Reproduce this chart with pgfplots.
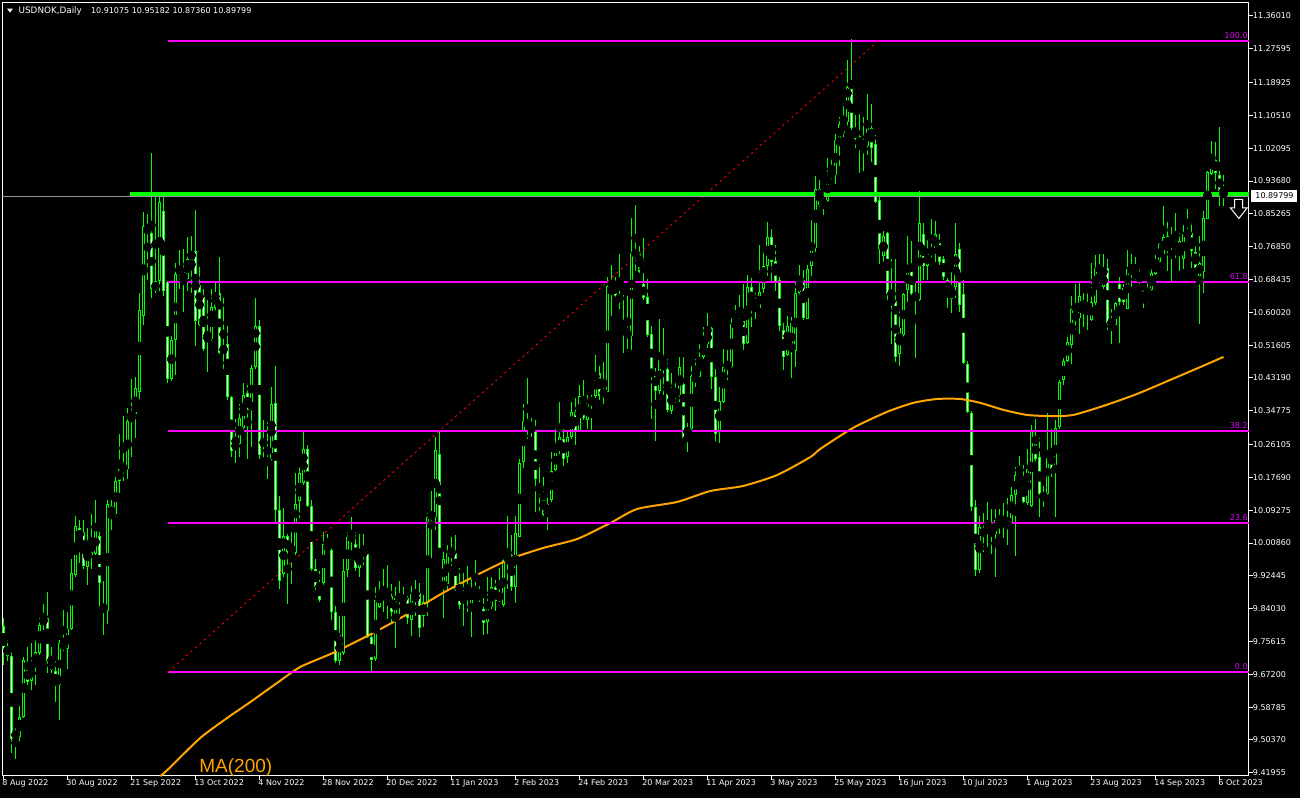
\documentclass[border=0pt]{standalone}
\usepackage{pgfplots}
\pgfplotsset{compat=1.18}
\usepackage{pgfplotstable}
\usepackage{fontspec}
\setmainfont{DejaVu Sans}
\newfontfamily\arialfont{Liberation Sans}
\newlength\px
\setlength\px{0.5pt}
\definecolor{cgreen}{RGB}{0,255,0}
\definecolor{fibc}{RGB}{255,0,255}
\definecolor{fibtxt}{RGB}{225,0,255}
\definecolor{maorange}{RGB}{255,165,0}
\definecolor{pricegrey}{RGB}{150,150,150}

\pgfplotstableread{
i o h l c
0 9.795 9.816 9.696 9.738
1 9.746 9.759 9.706 9.719
2 9.719 9.729 9.471 9.507
3 9.514 9.539 9.455 9.520
4 9.511 9.591 9.497 9.563
5 9.563 9.717 9.560 9.708
6 9.688 9.743 9.644 9.652
7 9.654 9.753 9.633 9.696
8 9.696 9.759 9.644 9.729
9 9.727 9.822 9.722 9.798
10 9.801 9.853 9.785 9.818
11 9.816 9.882 9.675 9.706
12 9.708 9.743 9.675 9.683
13 9.680 9.706 9.602 9.644
14 9.644 9.759 9.555 9.753
15 9.753 9.837 9.733 9.740
16 9.736 9.832 9.685 9.788
17 9.788 9.968 9.785 9.931
18 9.926 10.078 9.921 10.052
19 10.047 10.068 9.958 10.015
20 10.036 10.068 9.942 9.949
21 9.947 10.047 9.900 10.015
22 10.015 10.083 9.942 9.979
23 9.981 10.120 9.979 10.042
24 10.026 10.036 9.837 9.907
25 9.848 9.911 9.774 9.834
26 9.834 10.120 9.801 10.109
27 10.104 10.120 10.042 10.078
28 10.083 10.178 10.078 10.167
29 10.167 10.287 10.136 10.198
30 10.198 10.335 10.169 10.203
31 10.198 10.355 10.172 10.322
32 10.329 10.429 10.230 10.345
33 10.340 10.434 10.277 10.406
34 10.397 10.651 10.376 10.607
35 10.591 10.858 10.567 10.821
36 10.821 10.853 10.682 10.803
37 10.803 11.010 10.638 10.659
38 10.680 10.900 10.649 10.654
39 10.680 10.900 10.654 10.884
40 10.860 10.900 10.643 10.654
41 10.678 10.680 10.418 10.429
42 10.429 10.539 10.424 10.530
43 10.530 10.727 10.439 10.698
44 10.706 10.759 10.659 10.712
45 10.672 10.762 10.602 10.709
46 10.685 10.793 10.654 10.738
47 10.735 10.797 10.649 10.758
48 10.758 10.863 10.513 10.578
49 10.670 10.716 10.565 10.569
50 10.640 10.659 10.502 10.507
51 10.523 10.633 10.448 10.546
52 10.533 10.659 10.528 10.615
53 10.612 10.675 10.607 10.649
54 10.649 10.743 10.494 10.497
55 10.497 10.638 10.450 10.513
56 10.520 10.565 10.376 10.382
57 10.382 10.387 10.230 10.246
58 10.253 10.326 10.214 10.263
59 10.263 10.366 10.230 10.329
60 10.303 10.418 10.298 10.387
61 10.394 10.413 10.225 10.350
62 10.350 10.465 10.256 10.457
63 10.460 10.638 10.455 10.565
64 10.565 10.581 10.225 10.235
65 10.209 10.324 10.209 10.225
66 10.209 10.319 10.172 10.225
67 10.222 10.408 10.214 10.366
68 10.368 10.462 10.062 10.094
69 10.094 10.130 9.890 9.911
70 9.928 10.099 9.921 10.026
71 10.026 10.031 9.853 9.984
72 9.984 10.036 9.905 10.000
73 9.984 10.188 9.979 10.109
74 10.117 10.204 10.073 10.188
75 10.162 10.298 10.157 10.251
76 10.251 10.261 10.102 10.104
77 10.104 10.120 9.937 9.942
78 9.942 9.968 9.884 9.897
79 9.905 9.937 9.858 9.863
80 9.905 10.036 9.900 10.005
81 10.005 10.031 9.989 9.994
82 9.991 10.000 9.811 9.832
83 9.832 9.848 9.701 9.706
84 9.706 9.822 9.696 9.774
85 9.727 9.968 9.722 9.937
86 9.939 10.036 9.921 10.023
87 10.023 10.075 9.989 10.021
88 10.005 10.036 9.937 9.945
89 9.945 10.031 9.921 9.981
90 9.979 10.031 9.952 9.989
91 9.981 9.989 9.764 9.769
92 9.769 9.774 9.680 9.708
93 9.711 9.895 9.706 9.863
94 9.845 9.911 9.843 9.886
95 9.886 9.942 9.832 9.869
96 9.879 9.952 9.813 9.855
97 9.874 9.905 9.801 9.832
98 9.827 9.895 9.740 9.868
99 9.865 9.911 9.827 9.872
100 9.848 9.895 9.837 9.843
101 9.868 9.874 9.801 9.816
102 9.812 9.899 9.771 9.878
103 9.878 9.915 9.822 9.880
104 9.880 9.906 9.767 9.792
105 9.822 9.876 9.794 9.858
106 9.856 10.087 9.822 10.076
107 10.076 10.142 9.968 10.083
108 10.076 10.280 10.041 10.247
109 10.238 10.298 9.995 9.996
110 9.897 9.986 9.817 9.968
111 9.904 10.005 9.886 9.984
112 9.984 10.023 9.950 9.980
113 9.982 10.030 9.886 9.890
114 9.893 9.945 9.840 9.849
115 9.867 9.933 9.796 9.881
116 9.865 9.950 9.833 9.884
117 9.853 9.920 9.768 9.895
118 9.889 9.964 9.876 9.886
119 9.881 9.899 9.858 9.865
120 9.840 9.869 9.774 9.805
121 9.805 9.922 9.776 9.845
122 9.844 9.922 9.840 9.895
123 9.895 9.915 9.835 9.860
124 9.863 9.945 9.858 9.881
125 9.849 9.973 9.844 9.966
126 9.964 10.078 9.890 9.977
127 9.977 10.028 9.886 9.895
128 9.895 10.078 9.856 10.034
129 10.025 10.225 10.023 10.215
130 10.217 10.364 10.202 10.321
131 10.307 10.431 10.275 10.325
132 10.307 10.330 10.280 10.298
133 10.296 10.325 10.089 10.174
134 10.153 10.211 10.092 10.138
135 10.131 10.179 10.078 10.080
136 10.080 10.133 10.041 10.110
137 10.119 10.243 10.115 10.193
138 10.197 10.307 10.193 10.245
139 10.243 10.371 10.238 10.280
140 10.275 10.305 10.206 10.225
141 10.229 10.298 10.215 10.281
142 10.280 10.371 10.275 10.344
143 10.344 10.380 10.261 10.296
144 10.296 10.415 10.293 10.385
145 10.385 10.426 10.325 10.330
146 10.325 10.389 10.302 10.371
147 10.367 10.389 10.293 10.378
148 10.385 10.492 10.380 10.442
149 10.444 10.463 10.376 10.385
150 10.391 10.472 10.364 10.396
151 10.396 10.692 10.394 10.669
152 10.671 10.721 10.591 10.675
153 10.678 10.692 10.637 10.641
154 10.644 10.749 10.609 10.628
155 10.566 10.646 10.495 10.548
156 10.540 10.644 10.507 10.549
157 10.540 10.843 10.504 10.753
158 10.753 10.875 10.706 10.750
159 10.751 10.770 10.701 10.703
160 10.673 10.791 10.632 10.637
161 10.639 10.686 10.536 10.543
162 10.545 10.564 10.327 10.446
163 10.446 10.458 10.270 10.399
164 10.399 10.584 10.391 10.479
165 10.469 10.559 10.389 10.458
166 10.454 10.481 10.344 10.351
167 10.348 10.444 10.339 10.400
168 10.399 10.426 10.367 10.385
169 10.385 10.486 10.371 10.461
170 10.417 10.486 10.275 10.278
171 10.287 10.316 10.241 10.302
172 10.302 10.463 10.298 10.437
173 10.426 10.481 10.408 10.437
174 10.435 10.518 10.431 10.485
175 10.486 10.563 10.481 10.518
176 10.518 10.598 10.509 10.554
177 10.559 10.563 10.403 10.435
178 10.435 10.454 10.270 10.289
179 10.293 10.408 10.266 10.373
180 10.371 10.505 10.367 10.461
181 10.461 10.504 10.426 10.467
182 10.461 10.586 10.458 10.571
183 10.572 10.618 10.559 10.566
184 10.563 10.646 10.559 10.580
185 10.582 10.673 10.504 10.520
186 10.522 10.696 10.518 10.664
187 10.664 10.687 10.563 10.620
188 10.605 10.650 10.582 10.620
189 10.611 10.772 10.609 10.652
190 10.660 10.760 10.650 10.719
191 10.719 10.831 10.687 10.794
192 10.794 10.813 10.678 10.730
193 10.733 10.774 10.655 10.678
194 10.683 10.692 10.553 10.565
195 10.554 10.573 10.452 10.486
196 10.492 10.591 10.488 10.564
197 10.500 10.589 10.431 10.573
198 10.500 10.683 10.461 10.650
199 10.650 10.721 10.646 10.683
200 10.684 10.708 10.580 10.586
201 10.584 10.721 10.582 10.712
202 10.719 10.843 10.694 10.765
203 10.765 10.950 10.756 10.916
204 10.916 10.939 10.870 10.875
205 10.870 10.903 10.849 10.889
206 10.886 10.996 10.884 10.948
207 10.947 10.995 10.940 10.965
208 10.953 11.059 10.930 11.042
209 11.042 11.100 10.976 11.082
210 11.059 11.137 11.050 11.091
211 11.088 11.247 11.077 11.177
212 11.174 11.302 11.068 11.073
213 11.073 11.105 11.022 11.045
214 11.052 11.109 10.958 11.024
215 11.024 11.100 10.963 11.015
216 11.027 11.160 11.004 11.073
217 11.073 11.134 10.986 11.022
218 11.033 11.054 10.880 10.883
219 10.889 10.903 10.724 10.763
220 10.745 10.809 10.724 10.795
221 10.804 10.807 10.628 10.648
222 10.655 10.738 10.519 10.641
223 10.629 10.738 10.473 10.485
224 10.494 10.609 10.462 10.559
225 10.543 10.651 10.536 10.646
226 10.657 10.795 10.628 10.715
227 10.715 10.784 10.646 10.648
228 10.646 10.683 10.482 10.635
229 10.632 10.912 10.629 10.829
230 10.802 10.829 10.683 10.719
231 10.718 10.788 10.683 10.756
232 10.756 10.839 10.738 10.758
233 10.761 10.834 10.730 10.800
234 10.779 10.802 10.721 10.730
235 10.738 10.745 10.683 10.692
236 10.683 10.687 10.611 10.650
237 10.635 10.708 10.598 10.660
238 10.664 10.829 10.637 10.749
239 10.763 10.779 10.600 10.620
240 10.648 10.683 10.467 10.470
241 10.467 10.476 10.343 10.345
242 10.343 10.348 10.090 10.102
243 10.100 10.118 9.925 9.939
244 9.939 10.077 9.932 10.051
245 10.024 10.086 9.985 10.047
246 10.046 10.113 9.999 10.043
247 10.031 10.095 9.980 10.042
248 10.031 10.095 9.921 10.069
249 10.067 10.095 10.031 10.071
250 10.051 10.112 10.022 10.069
251 10.060 10.123 10.004 10.051
252 10.060 10.152 10.057 10.132
253 10.132 10.203 9.976 10.182
254 10.164 10.233 10.159 10.187
255 10.164 10.210 10.112 10.113
256 10.112 10.249 10.106 10.198
257 10.104 10.311 10.100 10.299
258 10.270 10.326 10.219 10.225
259 10.228 10.279 10.075 10.134
260 10.125 10.155 10.100 10.132
261 10.134 10.341 10.132 10.247
262 10.244 10.302 10.178 10.198
263 10.194 10.323 10.075 10.304
264 10.306 10.426 10.302 10.421
265 10.427 10.482 10.414 10.476
266 10.476 10.538 10.472 10.525
267 10.516 10.641 10.467 10.609
268 10.584 10.672 10.554 10.596
269 10.586 10.678 10.545 10.641
270 10.629 10.651 10.563 10.611
271 10.611 10.655 10.554 10.620
272 10.580 10.727 10.577 10.626
273 10.623 10.747 10.618 10.715
274 10.699 10.749 10.675 10.681
275 10.666 10.749 10.660 10.699
276 10.715 10.738 10.554 10.572
277 10.568 10.609 10.519 10.580
278 10.568 10.626 10.563 10.623
279 10.672 10.692 10.522 10.626
280 10.662 10.673 10.618 10.626
281 10.609 10.761 10.609 10.712
282 10.711 10.751 10.664 10.715
283 10.703 10.742 10.683 10.700
284 10.696 10.715 10.672 10.681
285 10.655 10.657 10.611 10.628
286 10.626 10.683 10.623 10.648
287 10.657 10.712 10.655 10.701
288 10.699 10.756 10.696 10.729
289 10.730 10.779 10.724 10.776
290 10.751 10.874 10.749 10.793
291 10.767 10.831 10.706 10.797
292 10.783 10.820 10.678 10.786
293 10.765 10.855 10.740 10.774
294 10.754 10.804 10.706 10.782
295 10.738 10.825 10.712 10.802
296 10.797 10.864 10.793 10.807
297 10.804 10.831 10.715 10.758
298 10.754 10.770 10.710 10.715
299 10.694 10.795 10.571 10.727
300 10.703 10.859 10.651 10.843
301 10.840 10.963 10.839 10.960
302 10.956 11.039 10.953 11.002
303 10.990 11.036 10.917 10.958
304 10.953 11.076 10.874 10.911
305 10.91075 10.95182 10.87360 10.89799
}\candles

\pgfplotstableread{
i m
39.2 9.411
41.2 9.429
49.2 9.509
55.9 9.560
61.7 9.601
68.4 9.650
74.2 9.691
82.4 9.727
90.9 9.770
99.2 9.816
109.9 9.881
118.4 9.927
126.7 9.968
134.9 9.996
143.4 10.019
151.7 10.060
158.4 10.096
168.4 10.114
176.7 10.142
184.9 10.155
193.4 10.183
201.7 10.229
204.2 10.250
212.4 10.304
220.9 10.345
227.4 10.368
233.4 10.378
239.2 10.378
244.2 10.368
250.0 10.350
256.0 10.337
262.4 10.334
267.4 10.337
274.9 10.360
283.4 10.391
291.7 10.427
299.9 10.463
305 10.486
}\mavals

\begin{document}
\begin{tikzpicture}
\fill[black] (0,0) rectangle (1300\px,-798\px);
\useasboundingbox (0,0) rectangle (1300\px,-798\px);
\begin{axis}[
  at={(2.5\px,-2.5\px)}, anchor=north west,
  scale only axis, width=1246\px, height=773\px,
  xmin=-0.25, xmax=311.25, ymin=9.4126, ymax=11.3946,
  clip=false,
  axis line style={white, line width=1\px},
  xtick={0,16,...,304},
  xticklabels={8 Aug 2022,30 Aug 2022,21 Sep 2022,13 Oct 2022,4 Nov 2022,28 Nov 2022,20 Dec 2022,11 Jan 2023,2 Feb 2023,24 Feb 2023,20 Mar 2023,11 Apr 2023,3 May 2023,25 May 2023,16 Jun 2023,10 Jul 2023,1 Aug 2023,23 Aug 2023,14 Sep 2023,6 Oct 2023},
  ytick={9.41955,9.50370,9.58785,9.67200,9.75615,9.84030,9.92445,10.00860,10.09275,10.17690,10.26105,10.34775,10.43190,10.51605,10.60020,10.68435,10.76850,10.85265,10.93680,11.02095,11.10510,11.18925,11.27595,11.36010},
  yticklabels={9.41955,9.50370,9.58785,9.67200,9.75615,9.84030,9.92445,10.00860,10.09275,10.17690,10.26105,10.34775,10.43190,10.51605,10.60020,10.68435,10.76850,10.85265,10.93680,11.02095,11.10510,11.18925,11.27595,11.36010},
  xtick pos=bottom, ytick pos=right, yticklabel pos=right,
  tick align=outside, major tick length=4\px,
  tick style={white, line width=1\px},
  ticklabel style={font=\fontsize{4pt}{5pt}\selectfont, text=white, inner sep=0pt},
  xticklabel style={anchor=north west, xshift=-1.5\px},
  yticklabel style={anchor=west},
]
% wicks
\addplot[only marks, mark=none,
  error bars/.cd, y dir=both, y explicit, error mark=none,
  error bar style={draw=cgreen, line width=1\px}]
  table[x=i, y expr={(\thisrow{h}+\thisrow{l})/2}, y error expr={(\thisrow{h}-\thisrow{l})/2}] {\candles};
% body outlines
\addplot[only marks, mark=none,
  error bars/.cd, y dir=both, y explicit, error mark=none,
  error bar style={draw=cgreen, line width=3\px}]
  table[x=i, y expr={(\thisrow{o}+\thisrow{c})/2}, y error expr={max(abs(\thisrow{o}-\thisrow{c})/2,0.0013)}] {\candles};
% bear fill (white)
\addplot[only marks, mark=none,
  restrict expr to domain={\thisrow{o}-\thisrow{c}}{0.0055:10},
  error bars/.cd, y dir=both, y explicit, error mark=none,
  error bar style={draw=white, line width=1\px}]
  table[x=i, y expr={(\thisrow{o}+\thisrow{c})/2}, y error expr={abs(\thisrow{o}-\thisrow{c})/2-0.00256}] {\candles};
% bull fill (black)
\addplot[only marks, mark=none,
  restrict expr to domain={\thisrow{c}-\thisrow{o}}{0.0055:10},
  error bars/.cd, y dir=both, y explicit, error mark=none,
  error bar style={draw=black, line width=1\px}]
  table[x=i, y expr={(\thisrow{o}+\thisrow{c})/2}, y error expr={abs(\thisrow{o}-\thisrow{c})/2-0.00256}] {\candles};
% MA(200)
\addplot[maorange, line width=2\px, smooth, tension=0.4] table[x=i, y=m] {\mavals};
% Fibonacci levels
\addplot[fibc, line width=2\px] coordinates {(41.2,11.2966) (311.25,11.2966)};
\addplot[fibc, line width=2\px] coordinates {(41.2,10.678) (311.25,10.678)};
\addplot[fibc, line width=2\px] coordinates {(41.2,10.296) (311.25,10.296)};
\addplot[fibc, line width=2\px] coordinates {(41.2,10.060) (311.25,10.060)};
\addplot[fibc, line width=2\px] coordinates {(41.2,9.678) (311.25,9.678)};
% Fibonacci trend line
\addplot[red, line width=1\px, dash pattern=on 2\px off 4\px] coordinates {(41.2,9.678) (218.7,11.2966)};
% price line and resistance
\addplot[pricegrey, line width=1\px] coordinates {(-0.25,10.89799) (311.25,10.89799)};
\addplot[cgreen, line width=4\px] coordinates {(31.7,10.904) (311.25,10.904)};
% down arrow
\addplot[white, line width=1\px, fill=black] coordinates {(307.8,10.890) (309.8,10.890) (309.8,10.868) (310.9,10.868) (308.85,10.841) (306.7,10.868) (307.8,10.868)} -- cycle;
\end{axis}
% header
\fill[white] (7\px,-8.5\px) -- (13\px,-8.5\px) -- (10\px,-12.5\px) -- cycle;
\node[anchor=west, inner sep=0pt, text=white, font=\fontsize{4.4pt}{5pt}\selectfont] at (18.3\px,-10.7\px) {USDNOK,Daily};
\node[anchor=west, inner sep=0pt, text=white, font=\fontsize{4pt}{5pt}\selectfont] at (90.7\px,-10.7\px) {10.91075 10.95182 10.87360 10.89799};
% current price label
\fill[white] (1251\px,-190\px) rectangle (1297\px,-201.5\px);
\node[anchor=west, inner sep=0pt, text=black, font=\fontsize{4pt}{5pt}\selectfont] at (1255\px,-195.75\px) {10.89799};
% fib labels
\begin{scope}[every node/.style={anchor=south east, inner sep=0pt, text=fibtxt, font=\fontsize{4pt}{5pt}\selectfont}]
\node at (1248\px,-39.5\px) {100.0};
\node at (1248\px,-280.5\px) {61.8};
\node at (1248\px,-429.5\px) {38.2};
\node at (1248\px,-521.5\px) {23.6};
\node at (1248\px,-670.5\px) {0.0};
\end{scope}
% MA label
\node[anchor=base west, inner sep=0pt, text=maorange, font=\arialfont\fontsize{9.5pt}{11pt}\selectfont] at (199\px,-772.5\px) {MA(200)};
\end{tikzpicture}
\end{document}
